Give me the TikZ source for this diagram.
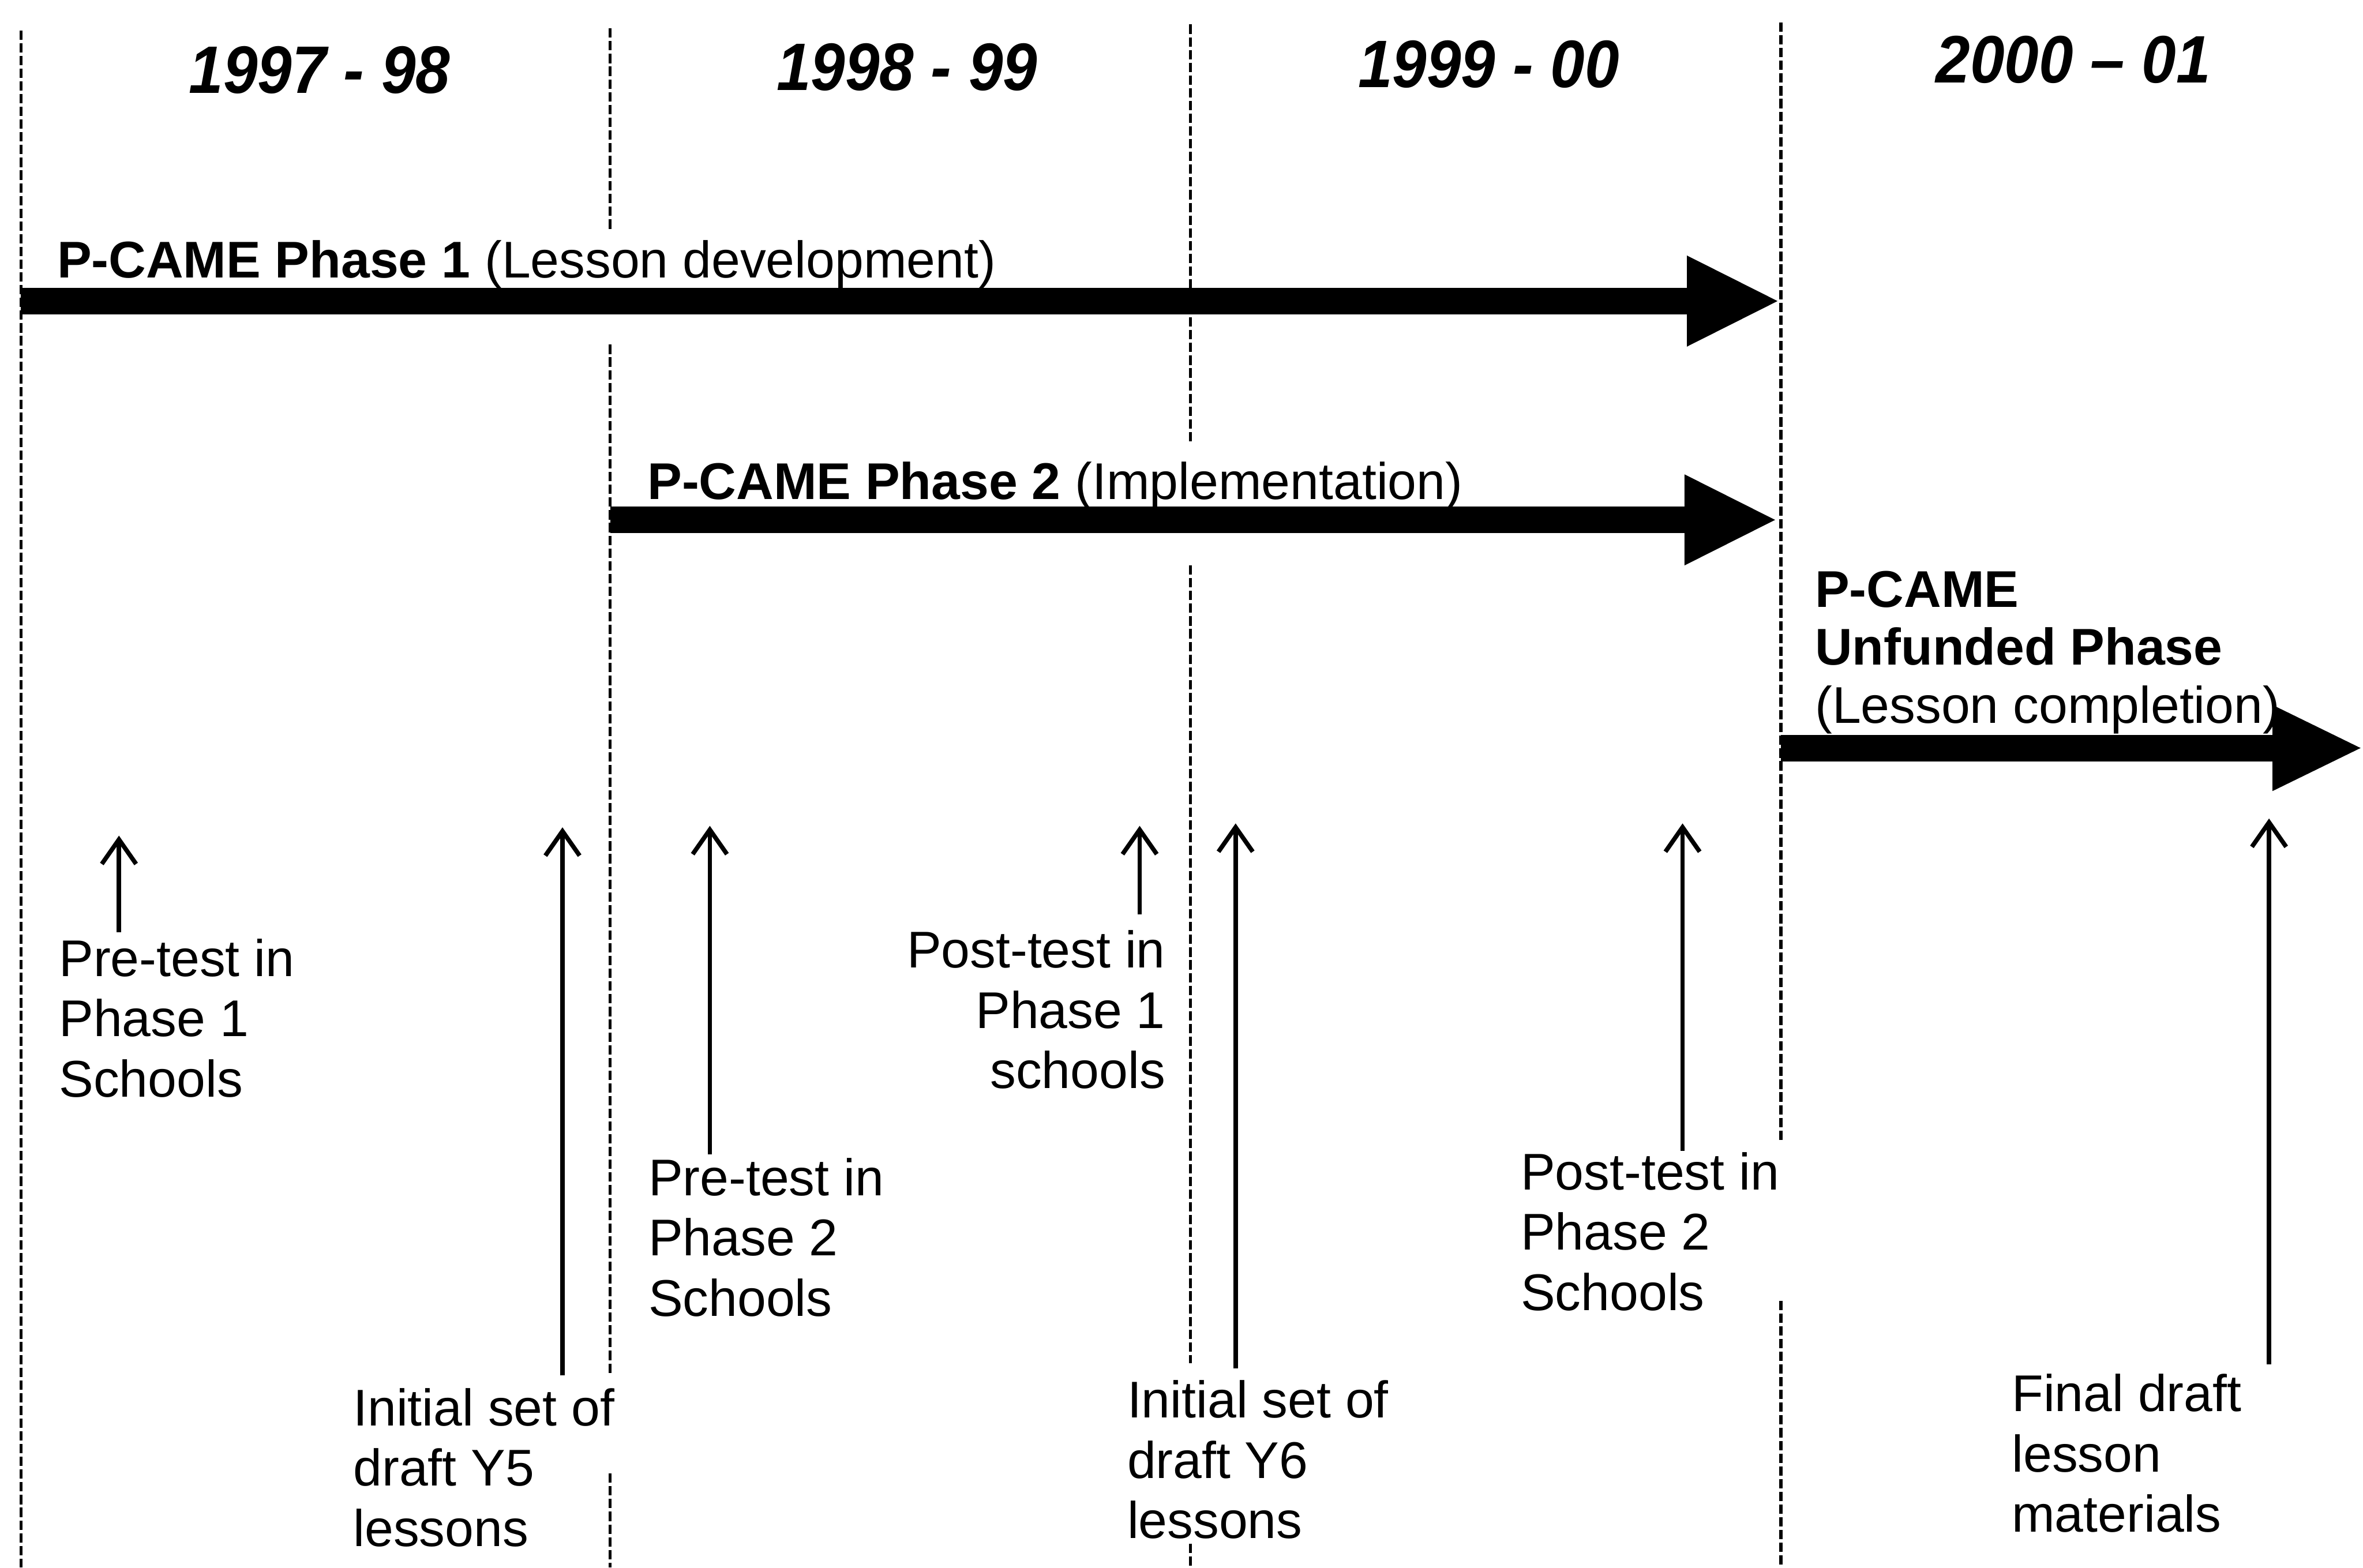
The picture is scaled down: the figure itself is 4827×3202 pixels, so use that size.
\documentclass[tikz,border=0pt]{standalone}
\usepackage{fontspec}
\setmainfont{Liberation Sans}
\newfontfamily\hdrfont[FakeStretch=0.92]{Liberation Sans}
\usetikzlibrary{arrows.meta,calc}

\begin{document}
\begin{tikzpicture}[x=0.01cm,y=-0.01cm,
  yeardiv/.style={line width=0.065cm, dash pattern=on 0.19cm off 0.07cm},
  yearlbl/.style={font=\hdrfont\bfseries\itshape\fontsize{39}{45}\selectfont, inner sep=0, anchor=base},
  phaselbl/.style={font=\fontsize{30}{36}\selectfont, inner sep=0, anchor=base west},
  phasebar/.style={line width=0.54cm},
  phasehead/.style={fill=black},
  evlbl/.style={font=\fontsize{30}{35}\selectfont, inner sep=0, align=left, anchor=north west},
  evarrow/.style={line width=0.09cm, -{Straight Barb[length=0.5cm,width=0.7cm]}}
]
\useasboundingbox (0,0) rectangle (4827,3202);

% year boundaries
\draw[yeardiv] (43,62) -- (43,3202);
\draw[yeardiv] (1246,58) -- (1246,469);
\draw[yeardiv] (1246,704) -- (1246,2805);
\draw[yeardiv] (1246,3010) -- (1246,3202);
\draw[yeardiv] (2432,50) -- (2432,903);
\draw[yeardiv] (2432,1155) -- (2432,2785);
\draw[yeardiv] (2432,3153) -- (2432,3202);
\draw[yeardiv] (3638,46) -- (3638,2335);
\draw[yeardiv] (3638,2657) -- (3638,3202);

% school years
\node[yearlbl] (y1) at (653,190) {1997 - 98};
\node[yearlbl] (y2) at (1853,184) {1998 - 99};
\node[yearlbl] (y3) at (3041,178) {1999 - 00};
\node[yearlbl] (y4) at (4235,169) {2000 – 01};

% project phases
\coordinate (p1s) at (43,615);
\coordinate (p1e) at (3631,615);
\coordinate (p2s) at (1247,1062);
\coordinate (p2e) at (3626,1062);
\coordinate (p3s) at (3638,1528);
\coordinate (p3e) at (4822,1528);

\draw[phasebar] (p1s) -- ($(p1e)+(-180,0)$);
\fill[phasehead] ($(p1e)+(-185,-93)$) -- (p1e) -- ($(p1e)+(-185,93)$) -- cycle;
\draw[phasebar] (p2s) -- ($(p2e)+(-180,0)$);
\fill[phasehead] ($(p2e)+(-185,-93)$) -- (p2e) -- ($(p2e)+(-185,93)$) -- cycle;
\draw[phasebar] (p3s) -- ($(p3e)+(-175,0)$);
\fill[phasehead] ($(p3e)+(-180,-88)$) -- (p3e) -- ($(p3e)+(-180,88)$) -- cycle;

\node[phaselbl] (ph1) at (116,567) {\textbf{P-CAME Phase 1} (Lesson development)};
\node[phaselbl] (ph2) at (1322,1020) {\textbf{P-CAME Phase 2} (Implementation)};
\node[evlbl, font=\fontsize{30}{33.6}\selectfont] (ph3) at (3707,1166)
  {\textbf{P-CAME}\\\textbf{Unfunded Phase}\\(Lesson completion)};

% events
\node[evlbl] (e1) at (120,1917) {Pre-test in\\Phase 1\\Schools};
\node[evlbl] (e2) at (721,2835) {Initial set of\\draft Y5\\lessons};
\node[evlbl] (e3) at (1324,2365) {Pre-test in\\Phase 2\\Schools};
\node[evlbl, align=right, anchor=north east] (e4) at (2381,1900) {Post-test in\\Phase 1\\schools};
\node[evlbl] (e5) at (2302,2819) {Initial set of\\draft Y6\\lessons};
\node[evlbl] (e6) at (3106,2353) {Post-test in\\Phase 2\\Schools};
\node[evlbl] (e7) at (4109,2806) {Final draft\\lesson\\materials};

\coordinate (a1s) at (243,1904);  \coordinate (a1e) at (243,1707);
\coordinate (a2s) at (1149,2810); \coordinate (a2e) at (1149,1690);
\coordinate (a3s) at (1450,2358); \coordinate (a3e) at (1450,1687);
\coordinate (a4s) at (2328,1868); \coordinate (a4e) at (2328,1687);
\coordinate (a5s) at (2524,2795); \coordinate (a5e) at (2524,1682);
\coordinate (a6s) at (3437,2351); \coordinate (a6e) at (3437,1682);
\coordinate (a7s) at (4635,2787); \coordinate (a7e) at (4635,1672);

\draw[evarrow] (a1s) -- (a1e);
\draw[evarrow] (a2s) -- (a2e);
\draw[evarrow] (a3s) -- (a3e);
\draw[evarrow] (a4s) -- (a4e);
\draw[evarrow] (a5s) -- (a5e);
\draw[evarrow] (a6s) -- (a6e);
\draw[evarrow] (a7s) -- (a7e);
\end{tikzpicture}
\end{document}
